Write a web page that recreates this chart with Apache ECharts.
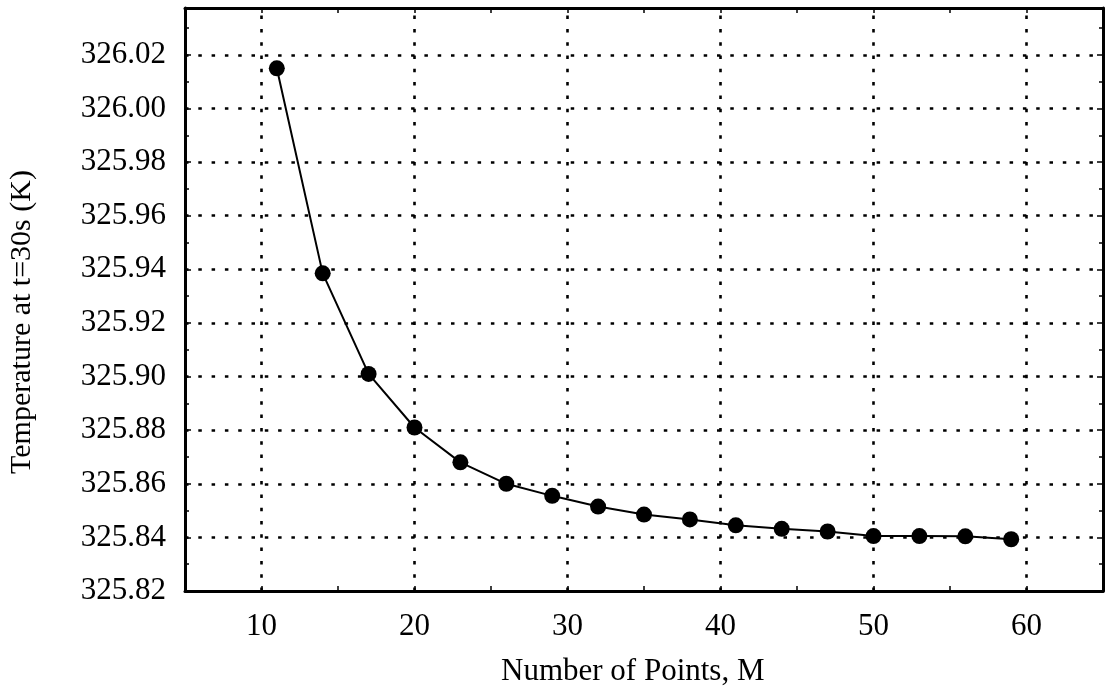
<!DOCTYPE html>
<html>
<head>
<meta charset="utf-8">
<script src="https://cdn.jsdelivr.net/npm/echarts@6/dist/echarts.min.js"></script>
<style>
  html, body { margin: 0; padding: 0; background: #fff; }
  #chart { width: 1106px; height: 694px; }
</style>
</head>
<body>
<div id="chart"></div>
<script>
// Grid resolution study: temperature at t = 30 s versus number of points M
const pointsM = [11, 14, 17, 20, 23, 26, 29, 32, 35, 38, 41, 44, 47, 50, 53, 56, 59];
const temperatureK = [
  326.015, 325.9385, 325.901, 325.881, 325.868, 325.860, 325.8555, 325.8515,
  325.8485, 325.8467, 325.8445, 325.8432, 325.8422, 325.8405, 325.8405, 325.8404, 325.8393
];
const xTickLabels = [10, 20, 30, 40, 50, 60];
const yTickLabels = ['325.82', '325.84', '325.86', '325.88', '325.90', '325.92',
                     '325.94', '325.96', '325.98', '326.00', '326.02'];

const serif = '"Liberation Serif", "DejaVu Serif", serif';
const ink = '#000';
const dotted = { color: ink, width: 2.6, type: [3.5, 9.8] };

const chart = echarts.init(document.getElementById('chart'), null, { renderer: 'canvas' });

function xAxisCfg(position, showLabels) {
  return {
    type: 'value', position: position, min: 5, max: 65, interval: 5,
    axisLine: { show: true, onZero: false, lineStyle: { color: ink, width: 3 } },
    axisTick: { show: true, inside: true, length: 5, lineStyle: { color: ink, width: 1.5 } },
    axisLabel: {
      show: showLabels, margin: 20, color: ink, fontFamily: serif, fontSize: 31,
      formatter: v => (xTickLabels.indexOf(v) >= 0 ? String(v) : '')
    },
    splitLine: { show: false }
  };
}

function yAxisCfg(position, showLabels) {
  return {
    type: 'value', position: position, min: 325.82, max: 326.0375, interval: 0.02,
    axisLine: { show: true, onZero: false, lineStyle: { color: ink, width: 3 } },
    axisTick: { show: true, inside: true, length: 6, lineStyle: { color: ink, width: 1.5 } },
    minorTick: { show: true, splitNumber: 2, length: 4, lineStyle: { color: ink, width: 1.5 } },
    axisLabel: {
      show: showLabels, margin: 19, color: ink, fontFamily: serif, fontSize: 31,
      showMaxLabel: false,
      formatter: v => {
        const s = v.toFixed(2);
        return yTickLabels.indexOf(s) >= 0 ? s : '';
      }
    },
    splitLine: { show: showLabels, lineStyle: dotted }
  };
}

const option = {
  backgroundColor: '#fff',
  animation: false,
  grid: { left: 185, right: 3, top: 8, bottom: 103, containLabel: false },
  xAxis: [xAxisCfg('bottom', true), xAxisCfg('top', false)],
  yAxis: [yAxisCfg('left', true), yAxisCfg('right', false)],
  graphic: [
    {
      type: 'text', left: 501, top: 656,
      style: { text: 'Number of Points, M', fill: ink, font: '31px ' + serif }
    },
    {
      type: 'text', x: 22, y: 322, rotation: Math.PI / 2,
      style: {
        text: 'Temperature at t=30s (K)', fill: ink, font: '30px ' + serif,
        align: 'center', verticalAlign: 'middle'
      }
    }
  ],
  series: [
    {
      // vertical dotted grid lines at the labelled x ticks
      type: 'line', xAxisIndex: 0, yAxisIndex: 0, data: [], z: 1, silent: true,
      markLine: {
        silent: true, symbol: 'none', animation: false,
        label: { show: false },
        lineStyle: dotted,
        data: xTickLabels.map(v => ({ xAxis: v }))
      }
    },
    {
      type: 'line', xAxisIndex: 0, yAxisIndex: 0, z: 5,
      data: pointsM.map((m, i) => [m, temperatureK[i]]),
      symbol: 'circle', symbolSize: 16,
      itemStyle: { color: ink },
      lineStyle: { color: ink, width: 2 }
    }
  ]
};

chart.setOption(option);
</script>
</body>
</html>
